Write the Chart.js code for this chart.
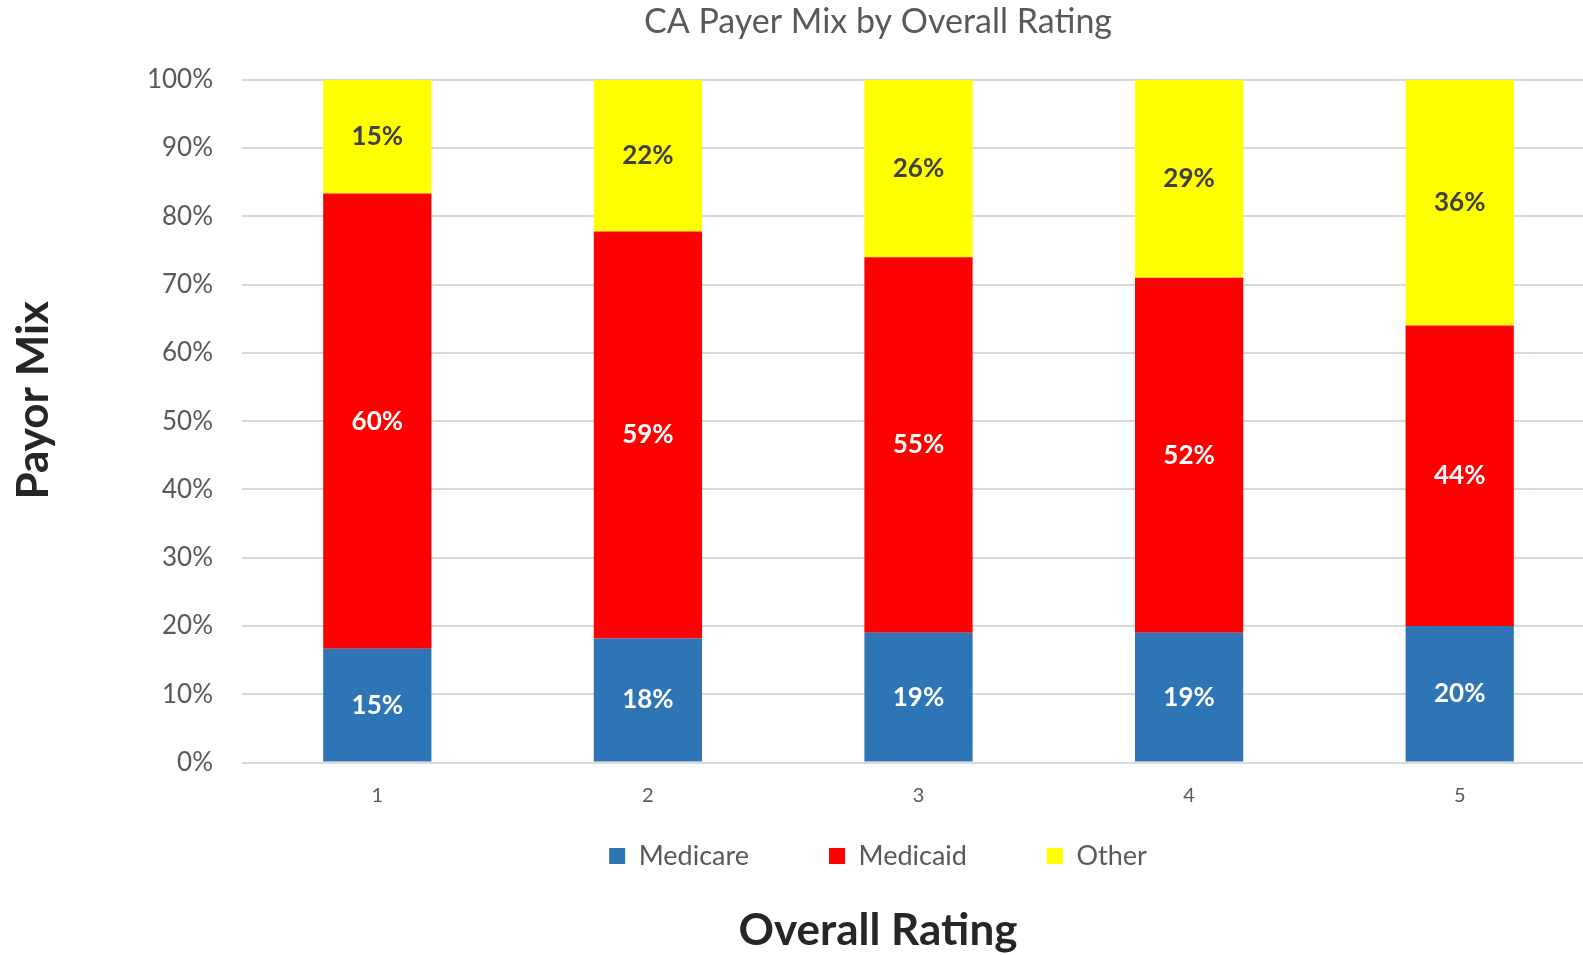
<!DOCTYPE html>
<html>
<head>
<meta charset="utf-8">
<script src="https://cdn.jsdelivr.net/npm/chart.js@4.4.0/dist/chart.umd.min.js"></script>
<style>
  html, body { margin: 0; padding: 0; overflow: hidden; background: #fff; }
</style>
</head>
<body>
<canvas id="payerChart" width="1756" height="955"></canvas>
<script>
const ratings = ['1', '2', '3', '4', '5'];
const medicare = [15, 18, 19, 19, 20];
const medicaid = [60, 59, 55, 52, 44];
const other = [15, 22, 26, 29, 36];

// 100% stacked: each bar is scaled to its own total
const totals = ratings.map((r, i) => medicare[i] + medicaid[i] + other[i]);
const share = arr => arr.map((v, i) => v / totals[i] * 100);

// labels inside the segments show the raw values
const barLabels = {
  id: 'barLabels',
  afterDatasetsDraw(chart) {
    const ctx = chart.ctx;
    ctx.save();
    ctx.font = 'bold 26px Lato';
    ctx.textAlign = 'center';
    ctx.textBaseline = 'middle';
    chart.data.datasets.forEach((ds, i) => {
      chart.getDatasetMeta(i).data.forEach((bar, j) => {
        const c = bar.getCenterPoint();
        ctx.fillStyle = ds.labelColor;
        ctx.fillText(ds.values[j] + '%', c.x, c.y);
      });
    });
    ctx.restore();
  }
};

// y axis title sits a bit above the middle of the plot, like the original
const yTitle = {
  id: 'yTitle',
  afterDraw(chart) {
    const { ctx, chartArea } = chart;
    ctx.save();
    ctx.translate(34, (chartArea.top + chartArea.bottom) / 2 - 21);
    ctx.rotate(-Math.PI / 2);
    ctx.font = 'bold 44px Lato';
    ctx.fillStyle = '#262626';
    ctx.textAlign = 'center';
    ctx.textBaseline = 'middle';
    ctx.fillText('Payor Mix', 0, 0);
    ctx.restore();
  }
};

new Chart(document.getElementById('payerChart'), {
  type: 'bar',
  data: {
    labels: ratings,
    datasets: [
      { label: 'Medicare', data: share(medicare), values: medicare, backgroundColor: '#2E75B6', labelColor: '#ffffff' },
      { label: 'Medicaid', data: share(medicaid), values: medicaid, backgroundColor: '#FF0000', labelColor: '#ffffff' },
      { label: 'Other', data: share(other), values: other, backgroundColor: '#FFFF00', labelColor: '#404040' }
    ]
  },
  options: {
    responsive: false,
    animation: false,
    categoryPercentage: 1,
    barPercentage: 0.4,
    layout: { padding: 0 },
    plugins: {
      title: {
        display: true,
        text: 'CA Payer Mix by Overall Rating',
        color: '#595959',
        font: { family: 'Lato', size: 34, weight: 'normal' },
        padding: { top: 2, bottom: 37 }
      },
      subtitle: {
        display: true,
        position: 'bottom',
        text: 'Overall Rating',
        color: '#262626',
        font: { family: 'Lato', size: 44, weight: 'bold', lineHeight: 1.1 },
        padding: { top: 27, bottom: 0 }
      },
      legend: {
        position: 'bottom',
        labels: {
          boxWidth: 16,
          boxHeight: 16,
          padding: 80,
          color: '#595959',
          font: { family: 'Lato', size: 27 }
        }
      },
      tooltip: { enabled: false }
    },
    scales: {
      x: {
        stacked: true,
        grid: { display: false, drawTicks: false },
        border: { display: false },
        // mirrored so the labels are not clipped to the zero-height axis box
        ticks: { mirror: true, color: '#595959', padding: -45, font: { family: 'Lato', size: 20 } },
        afterFit: s => { s.height = 0; }
      },
      y: {
        stacked: true,
        min: 0,
        max: 100,
        ticks: {
          stepSize: 10,
          padding: 29,
          color: '#595959',
          font: { family: 'Lato', size: 26 },
          callback: v => v + '%'
        },
        grid: { color: '#d9d9d9', lineWidth: 2, drawTicks: false },
        border: { display: false },
        afterFit: s => { s.width = 242; }
      },
      y2: {
        position: 'right',
        grid: { display: false },
        border: { display: false },
        ticks: { display: false },
        afterFit: s => { s.width = 161; }
      }
    }
  },
  plugins: [barLabels, yTitle]
});
</script>
</body>
</html>
